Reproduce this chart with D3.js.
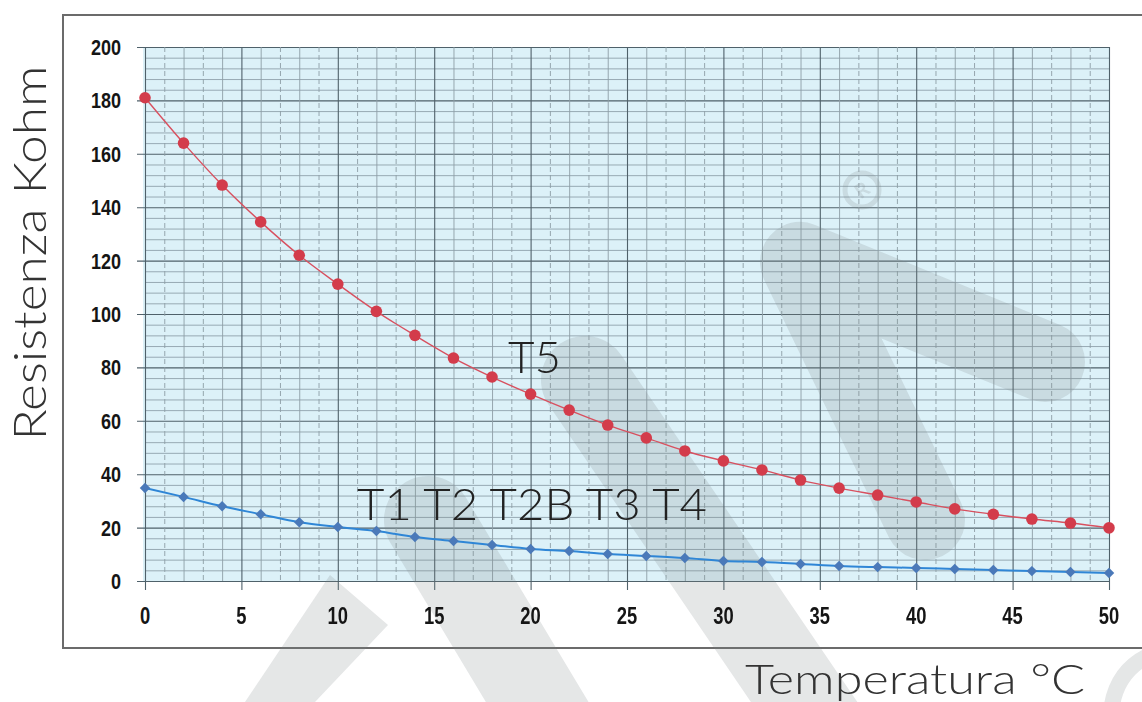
<!DOCTYPE html>
<html>
<head>
<meta charset="utf-8">
<script src="https://cdn.jsdelivr.net/npm/d3@7"></script>
<style>
  html, body { margin: 0; padding: 0; background: #fff; }
  svg { display: block; }
</style>
</head>
<body>
<svg id="chart"></svg>
<script>
// temperature (°C) and resistance (kOhm)
const temps = [0, 2, 4, 6, 8, 10, 12, 14, 16, 18, 20, 22, 24, 26, 28, 30, 32, 34, 36, 38, 40, 42, 44, 46, 48, 50];
const t5 = [181, 164, 148.3, 134.5, 122, 111.2, 101, 92, 83.5, 76.4, 70, 64, 58.4, 53.6, 48.7, 45, 41.6, 37.8, 34.8, 32.2, 29.6, 27, 25, 23.2, 21.7, 19.9];
const t1to4 = [34.8, 31.5, 28, 25, 22, 20.2, 18.7, 16.5, 15, 13.5, 12, 11.2, 10.1, 9.4, 8.6, 7.5, 7.1, 6.4, 5.6, 5.2, 4.9, 4.5, 4.1, 3.7, 3.4, 3];
const xTicks = [0, 5, 10, 15, 20, 25, 30, 35, 40, 45, 50];
const yTicks = [0, 20, 40, 60, 80, 100, 120, 140, 160, 180, 200];
const seriesLabels = ["T5", "T1 T2 T2B T3 T4"];

const width = 1142, height = 702;
const svg = d3.select("#chart").attr("width", width).attr("height", height);

let x = d3.scaleLinear().domain([0, 50]).range([145, 1109]);
let y = d3.scaleLinear().domain([0, 200]).range([581, 47]);

// outer frame
svg.append("rect")
    .attr("x", 63).attr("y", 15)
    .attr("width", 1140).attr("height", 633)
    .attr("fill", "none").attr("stroke", "#6b6b6b").attr("stroke-width", 2);

// graph paper
svg.append("rect")
    .attr("x", x(0) - 2).attr("y", y(200))
    .attr("width", x(50) - x(0) + 3).attr("height", y(0) - y(200))
    .attr("fill", "#dcf1f8");

const grid = svg.append("g");
grid.selectAll("line.h")
  .data(d3.range(0, 201, 4))
  .join("line")
    .attr("x1", d => d % 20 ? x(0) : x(0) - 8).attr("x2", x(50))
    .attr("y1", d => y(d) + 0.5).attr("y2", d => y(d) + 0.5)
    .attr("stroke", d => d % 20 ? "#8fa2ab" : "#4f616a")
    .attr("stroke-width", d => d % 20 ? 0.9 : 1.1);

grid.selectAll("line.v")
  .data(d3.range(0, 51, 1))
  .join("line")
    .attr("x1", d => x(d) + 0.5).attr("x2", d => x(d) + 0.5)
    .attr("y1", y(200)).attr("y2", d => d % 5 ? y(0) : y(0) + 9)
    .attr("stroke", d => d % 5 ? "#8d9ea6" : "#4f616a")
    .attr("stroke-width", d => d % 5 ? 0.9 : 1.1)
    .attr("stroke-dasharray", d => (d % 5 && d % 2) ? "5,3" : null);

// watermark logo
const wm = svg.append("g").attr("fill", "#7d8588").attr("stroke", "#7d8588").attr("opacity", 0.2);
wm.append("path").attr("stroke", "none")
    .attr("d", "M330,575 L388,625 L315,702 L245,702 Z");
wm.append("path").attr("fill", "none").attr("stroke-width", 88).attr("stroke-linecap", "round")
    .attr("d", "M428,520 L560,740");
wm.append("path").attr("fill", "none").attr("stroke-width", 88).attr("stroke-linecap", "round")
    .attr("d", "M585,380 L830,740");
wm.append("path").attr("fill", "none").attr("stroke-width", 80).attr("stroke-linecap", "round")
    .attr("stroke-linejoin", "round")
    .attr("d", "M925,520 L800,262 L1045,362");
wm.append("circle").attr("cx", 862).attr("cy", 190).attr("r", 17)
    .attr("fill", "none").attr("stroke-width", 5);
wm.append("text").attr("stroke", "none")
    .attr("transform", "translate(862,190) rotate(-35)")
    .attr("text-anchor", "middle").attr("dy", "0.36em")
    .attr("font-family", "Lato, sans-serif").attr("font-weight", 700).attr("font-size", 20)
    .text("R");
wm.append("path").attr("fill", "none").attr("stroke-width", 16)
    .attr("d", "M1112,705 Q1118,670 1150,655");

// curves
const line = d3.line().x((d, i) => x(temps[i])).y(d => y(d)).curve(d3.curveMonotoneX);

svg.append("path").datum(t5)
    .attr("d", line).attr("fill", "none")
    .attr("stroke", "#d8505f").attr("stroke-width", 1.4);
svg.append("path").datum(t1to4)
    .attr("d", line).attr("fill", "none")
    .attr("stroke", "#2f86d6").attr("stroke-width", 2);

svg.append("g").selectAll("circle")
  .data(t5)
  .join("circle")
    .attr("cx", (d, i) => x(temps[i])).attr("cy", d => y(d))
    .attr("r", 5.8).attr("fill", "#d33c4b");

svg.append("g").selectAll("path")
  .data(t1to4)
  .join("path")
    .attr("transform", (d, i) => `translate(${x(temps[i])},${y(d)})`)
    .attr("d", d3.symbol(d3.symbolDiamond2, 70))
    .attr("fill", "#4a79b9");

// tick labels (narrow look: squeeze a regular face horizontally)
const tickFont = "Liberation Sans, Arial, sans-serif";
svg.append("g")
    .attr("font-family", tickFont).attr("font-weight", 700)
    .attr("font-size", 22).attr("fill", "#151515").attr("text-anchor", "end")
  .selectAll("text")
  .data(yTicks)
  .join("text")
    .attr("transform", d => `translate(121,${y(d) + 8}) scale(0.82,1)`)
    .text(d => d);

svg.append("g")
    .attr("font-family", tickFont).attr("font-weight", 700)
    .attr("font-size", 23).attr("fill", "#151515").attr("text-anchor", "middle")
  .selectAll("text")
  .data(xTicks)
  .join("text")
    .attr("transform", d => `translate(${x(d)},624) scale(0.8,1)`)
    .text(d => d);

// axis titles
svg.append("text")
    .attr("transform", "translate(46,253) rotate(-90)")
    .attr("text-anchor", "middle")
    .attr("font-family", "Lato, sans-serif").attr("font-weight", 300)
    .attr("font-size", 46).attr("fill", "#333")
    .attr("textLength", 375).attr("lengthAdjust", "spacingAndGlyphs")
    .text("Resistenza Kohm");

svg.append("text")
    .attr("x", 745).attr("y", 694)
    .attr("font-family", "Lato, sans-serif").attr("font-weight", 300)
    .attr("font-size", 41).attr("fill", "#333")
    .attr("textLength", 340).attr("lengthAdjust", "spacingAndGlyphs")
    .text("Temperatura °C");

// series annotations
svg.append("text")
    .attr("x", 508).attr("y", 373)
    .attr("font-family", "Lato, sans-serif").attr("font-weight", 300)
    .attr("font-size", 44).attr("fill", "#222")
    .attr("textLength", 53).attr("lengthAdjust", "spacingAndGlyphs")
    .text(seriesLabels[0]);

svg.append("text")
    .attr("x", 357).attr("y", 520)
    .attr("font-family", "Lato, sans-serif").attr("font-weight", 300)
    .attr("font-size", 44).attr("fill", "#222")
    .attr("textLength", 350).attr("lengthAdjust", "spacingAndGlyphs")
    .text(seriesLabels[1]);
</script>
</body>
</html>
